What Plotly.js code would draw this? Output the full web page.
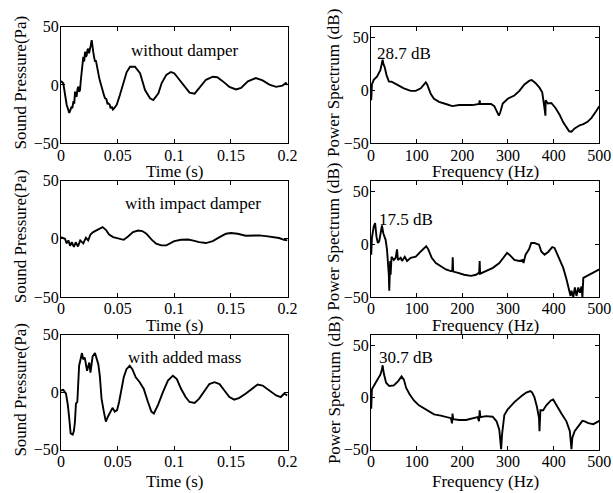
<!DOCTYPE html>
<html>
<head>
<meta charset="utf-8">
<script src="https://cdn.plot.ly/plotly-3.0.1.min.js"></script>
<style>html,body{margin:0;padding:0;background:#fff;}</style>
</head>
<body>
<div id="chart" style="width:613px;height:493px;"></div>
<script>
// ---- Time signals (s, Pa) ----
var tNoDamper = [0,0.0006,0.002,0.0035,0.005,0.0073,0.0085,0.0094,0.010,0.011,0.0117,0.0124,0.013,0.0138,0.0145,0.0153,0.016,0.0168,0.0175,0.0183,0.019,0.0197,0.0205,0.0212,0.022,0.0227,0.0234,0.0241,0.0248,0.0256,0.0263,0.0271,0.0278,0.0285,0.0292,0.030,0.0308,0.0315,0.0325,0.0338,0.0348,0.036,0.037,0.038,0.0389,0.040,0.041,0.0418,0.043,0.0438,0.0448,0.0458,0.0468,0.048,0.0492,0.052,0.055,0.058,0.061,0.0653,0.0698,0.0742,0.0786,0.0815,0.086,0.0889,0.093,0.097,0.100,0.1047,0.109,0.1135,0.118,0.122,0.128,0.134,0.138,0.143,0.1487,0.1545,0.159,0.165,0.172,0.178,0.184,0.190,0.1956,0.1985,0.2];
var pNoDamper = [2,2.7,1.4,-10,-17,-24,-21,-18.6,-20,-14,-16,-5.8,-9,-10,-4,-1.5,-6,-4.4,4,11,16,24,20,28.4,24,25.5,30,31,27,30,34,38.4,30,28,24,19.9,21,17,13,5.6,2,-3,-6,-9,-11.5,-12,-16,-15.8,-17,-20,-18.6,-21,-20,-18,-17,-8.6,1.4,11,15.6,15.6,10,-4.4,-11.5,-13,-7.2,1.6,8.6,11,10,4.4,-1,-6.6,-7.5,-2.5,4.4,7,6.6,3,-1.7,-3.9,-2.5,3,5.8,3.9,0.3,-1.7,-0.6,1.6,0];

var tImpact = [0,0.0035,0.005,0.0065,0.008,0.0095,0.0114,0.013,0.015,0.017,0.0197,0.022,0.024,0.026,0.0284,0.0314,0.0343,0.0367,0.0396,0.0425,0.046,0.0504,0.0554,0.0592,0.0636,0.068,0.0718,0.0754,0.0798,0.084,0.0886,0.093,0.096,0.1,0.106,0.112,0.116,0.122,0.128,0.134,0.140,0.1457,0.150,0.156,0.163,0.169,0.175,0.181,0.187,0.1925,0.197,0.2];
var pImpact = [1.4,0,-4,-1.4,-6,-3,-7,-3,-6.6,-1.4,-4,0.9,-1.4,3.7,5.7,7,8.6,10,7.7,3.7,1.4,0.6,-0.9,2,5.7,7,6.6,4.3,-0.6,-4.3,-5.7,-5.7,-4.3,-2,-0.9,-0.6,-1.4,-2.9,-3.7,-2,1.4,4.3,4.9,4.3,2.6,2.9,2.9,2.3,1.4,0.6,-0.9,-1.4];

var tMass = [0,0.002,0.0044,0.006,0.0073,0.0085,0.0103,0.0114,0.0123,0.0132,0.0144,0.015,0.016,0.0173,0.0185,0.0196,0.021,0.023,0.025,0.026,0.0279,0.030,0.0314,0.033,0.0343,0.0358,0.0378,0.0396,0.0416,0.0437,0.0455,0.0475,0.0495,0.0513,0.0534,0.0554,0.0578,0.0607,0.063,0.066,0.0695,0.073,0.0768,0.0798,0.082,0.0856,0.090,0.0944,0.0988,0.1023,0.106,0.110,0.1135,0.118,0.122,0.1267,0.131,0.1355,0.140,0.1443,0.1487,0.153,0.1575,0.163,0.169,0.1736,0.178,0.184,0.190,0.194,0.197,0.2];
var pMass = [1.4,2,-1.4,-11,-23,-36,-37,-34,-26,-10,-8.6,8.6,23,28.6,34,28.6,30,18.6,25.7,17,31,34,28.6,24,14,-5.7,-17,-25.7,-21,-17,-13.7,-17,-15.7,-8.6,2.9,12.9,20,22.9,20,12.9,8.6,2.9,-8.6,-17,-18.6,-11.4,0,10,14.3,11.4,2.9,-4.3,-8.6,-9.4,-5.7,1.4,7,8.6,7,1.4,-4.3,-6.6,-5,-1.4,3.4,6.6,5.7,1.4,-2.9,-4.3,-1.4,-2.9];

// ---- Power spectra (Hz, dB) ----
var fNoDamper = [0.5,2,6,13,20.5,24,25.5,27,30,34,39,45,50,61,72,87,98,109,116,120,123,131,138,149,164,178,193,208,222,237,238,239,252,263,270,275,280,283,288.5,299.5,314,325,336,347,352,360,369,375,379,380,382,382.5,387.5,395,404.5,413,420.7,428,434,439,446,457,465,473.5,483,492.6,500];
var sNoDamper = [-9.5,5.4,9.8,12.8,18.8,24,28.7,25,21.7,14.3,8.3,8,6.8,3.9,1.8,-0.6,-0.6,1.8,5.4,7.4,5.4,-3.6,-8,-11,-13,-15,-14,-14,-14,-13,-9.5,-13,-13,-13,-15,-20,-24,-21,-12.5,-8,-5,-0.6,5.4,9,9.5,6.8,2.4,-2,-11,-17,-24,-9.5,-12.5,-12,-17,-23,-30,-35,-38.7,-39,-36,-33,-32,-30,-26,-20,-15];

var fImpact = [0.5,2,6,9,12,15,18,22,24,27,32,35,37.5,39,40,42,43,45,50,54,57,59,65,68,74,79,87,98,109,116,121,125.5,133,142,153,164,175,178,179,180,189,204,219,230,237,238,239,252,267,281,292,298,303,314,325,332.6,334,338.5,346,351,358,368,373,380,388,397,402,412,421,428,434,437,439,443,446.5,450,454,457.5,461,463,465,473.5,487,500];
var sImpact = [-10,5.6,16.6,19.7,7,1,2.5,15,17.5,10,4,-5,-16,-29,-44,-16,-29,-12,-15,-13,-5,-15,-13,-16,-12,-16,-13,-12,-7,-4,-2,-5,-13,-18,-21,-24,-25.6,-25.6,-12.5,-26,-27,-29,-30,-29,-27,-16,-28,-25.6,-22.5,-18,-12,-8.4,-10,-15,-16,-15,-18,-10,-5,1,1,-0.6,-7,-10,-7.5,-3,-3.7,-13,-22.5,-33,-43,-49,-44,-50,-41,-49,-41,-46,-40,-50,-32,-30,-27,-24];

var fMass = [0.5,2,6,13,20.5,24,25.5,28,33,40,50,59.5,67,72,77,84.5,94,105,116,127,138,153,164,175,177.5,178.5,180,193,208,222,233.5,236.6,238,239.6,252,266.5,275,281,285,287,292,299.5,314,329,340,349,353,358,363.5,368,369,371,377,384,394,399,406,417,428,435.5,439,441,446,454,463,468,476,487,500];
var sMass = [-11,7.7,10.8,15.5,21.7,27,30.7,23,14,10.8,11.5,15.5,20,17,9,3,-3,-7.7,-10.8,-13.3,-16.4,-17.6,-18.6,-20,-25,-15.5,-21,-21.7,-21.7,-20,-19,-23,-12.4,-19,-18,-18.6,-23,-31,-50,-35.6,-17,-11.5,-4.6,1,4.6,6,4.6,0,-9.3,-20,-32.5,-12.4,-12.4,-7.7,-3,-2,-7.7,-15.5,-23,-32.5,-50,-38.7,-32.5,-28,-22.6,-23,-24.8,-25.7,-22.6];

// ---- Text ----
var caseLabels = ['without damper', 'with impact damper', 'with added mass'];
var peakLabels = ['28.7 dB', '17.5 dB', '30.7 dB'];
var timeTitle = 'Time (s)';
var freqTitle = 'Frequency (Hz)';
var pressureTitle = 'Sound Pressure(Pa)';
var spectrumTitle = 'Power Spectrum (dB)';
var timeTicks = [0, 0.05, 0.1, 0.15, 0.2];
var freqTicks = [0, 100, 200, 300, 400, 500];
var levelTicks = [-50, 0, 50];

var W = 613, H = 493;
var leftPx = [61, 287.5];
var rightPx = [371, 599.3];
var leftDom = [leftPx[0] / W, leftPx[1] / W];
var rightDom = [rightPx[0] / W, rightPx[1] / W];
var rowTops = [26.5, 180.5, 334.7];
var rowBots = [143.3, 297, 449.5];
var xTitleY = [172, 325.5, 481];
function ydom(i) { return [1 - rowBots[i] / H, 1 - rowTops[i] / H]; }

var font = 'Liberation Serif, Times New Roman, serif';
var lineStyle = {color: '#000', width: 1.9};

var timeX = [tNoDamper, tImpact, tMass];
var timeY = [pNoDamper, pImpact, pMass];
var freqX = [fNoDamper, fImpact, fMass];
var freqY = [sNoDamper, sImpact, sMass];

var traces = [];
var layout = {
  width: W, height: H,
  margin: {l: 0, r: 0, t: 0, b: 0},
  paper_bgcolor: '#fff', plot_bgcolor: '#fff',
  showlegend: false,
  font: {family: font, size: 16, color: '#000'},
  annotations: []
};

function baseAxis(standoff) {
  return {
    showline: true, linecolor: '#000', linewidth: 1, mirror: 'ticks',
    ticks: 'inside', ticklen: 4, tickwidth: 1, tickcolor: '#000',
    ticklabelstandoff: standoff,
    showgrid: false, zeroline: false, fixedrange: true,
    tickfont: {family: font, size: 16, color: '#000'}
  };
}

function textAnn(txt, px, py, angle) {
  return {text: txt, xref: 'paper', yref: 'paper', x: px / W, y: 1 - py / H,
    xanchor: 'center', yanchor: 'middle', showarrow: false, textangle: angle || 0,
    borderpad: 0, font: {family: font, size: 17, color: '#000'}};
}

var annYs = [50, 204, 357];
var annXs = [185, 192.5, 184];
var peakYs = [53.5, 219, 357.5];
var peakXs = [404, 406, 405.5];

for (var i = 0; i < 3; i++) {
  var lx = 2 * i + 1, rx = 2 * i + 2;
  var lxs = lx === 1 ? '' : String(lx);
  var rxs = String(rx);
  traces.push({x: timeX[i], y: timeY[i], type: 'scatter', mode: 'lines', line: lineStyle,
    xaxis: 'x' + lxs, yaxis: 'y' + lxs, hoverinfo: 'skip'});
  traces.push({x: freqX[i], y: freqY[i], type: 'scatter', mode: 'lines', line: lineStyle,
    xaxis: 'x' + rxs, yaxis: 'y' + rxs, hoverinfo: 'skip'});

  var xa = baseAxis(-3);
  xa.domain = leftDom; xa.anchor = 'y' + lxs; xa.range = [0, 0.2];
  xa.tickmode = 'array'; xa.tickvals = timeTicks;
  var ya = baseAxis(-2);
  ya.domain = ydom(i); ya.anchor = 'x' + lxs; ya.range = [-50, 50];
  ya.tickmode = 'array'; ya.tickvals = levelTicks;

  var xb = baseAxis(-3);
  xb.domain = rightDom; xb.anchor = 'y' + rxs; xb.range = [0, 500];
  xb.tickmode = 'array'; xb.tickvals = freqTicks;
  var yb = baseAxis(-2);
  yb.domain = ydom(i); yb.anchor = 'x' + rxs; yb.range = [-50, 60];
  yb.tickmode = 'array'; yb.tickvals = levelTicks;

  layout['xaxis' + lxs] = xa;
  layout['yaxis' + lxs] = ya;
  layout['xaxis' + rxs] = xb;
  layout['yaxis' + rxs] = yb;

  var midY = (rowTops[i] + rowBots[i]) / 2 - 2;
  layout.annotations.push(textAnn(timeTitle, (leftPx[0] + leftPx[1]) / 2, xTitleY[i]));
  layout.annotations.push(textAnn(freqTitle, (rightPx[0] + rightPx[1]) / 2, xTitleY[i]));
  layout.annotations.push(textAnn(pressureTitle, 20.5, midY, -90));
  layout.annotations.push(textAnn(spectrumTitle, 334, midY, -90));
  layout.annotations.push(textAnn(caseLabels[i], annXs[i], annYs[i]));
  layout.annotations.push(textAnn(peakLabels[i], peakXs[i], peakYs[i]));
}

Plotly.newPlot('chart', traces, layout, {displayModeBar: false, staticPlot: true});
</script>
</body>
</html>
